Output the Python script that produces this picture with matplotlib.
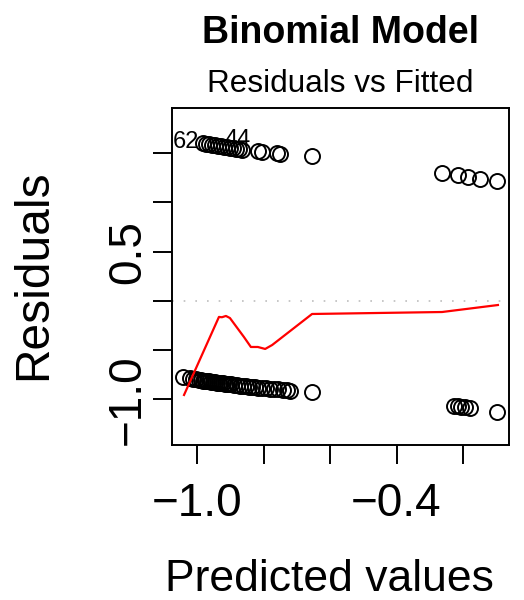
import matplotlib
matplotlib.use("Agg")
import matplotlib.pyplot as plt

plt.rcParams['font.family'] = ['Liberation Sans', 'DejaVu Sans']

# ---- data ----
fitted_low = [-1.042, -1.021, -1.012, -1.003, -0.994, -0.988, -0.982, -0.976, -0.970,
              -0.964, -0.958, -0.952, -0.946, -0.940, -0.934, -0.928, -0.922, -0.916,
              -0.910, -0.904, -0.898, -0.889, -0.880, -0.871, -0.862, -0.853, -0.844,
              -0.835, -0.826, -0.817, -0.805, -0.793, -0.781, -0.769, -0.757, -0.742,
              -0.730, -0.721, -0.654, -0.228, -0.215, -0.205, -0.195, -0.180, -0.098]
resid_low = [-0.77, -0.785, -0.79, -0.795, -0.80, -0.805, -0.81, -0.81, -0.815,
             -0.815, -0.82, -0.82, -0.825, -0.83, -0.83, -0.835, -0.835, -0.84,
             -0.84, -0.845, -0.845, -0.85, -0.855, -0.86, -0.86, -0.865, -0.87,
             -0.87, -0.875, -0.88, -0.88, -0.885, -0.89, -0.89, -0.895, -0.90,
             -0.905, -0.91, -0.92, -1.065, -1.07, -1.075, -1.08, -1.085, -1.13]
fitted_high = [-0.982, -0.973, -0.964, -0.955, -0.946, -0.937, -0.928, -0.919,
               -0.910, -0.901, -0.892, -0.883, -0.874, -0.865, -0.817, -0.805,
               -0.760, -0.751, -0.654, -0.263, -0.215, -0.185, -0.149, -0.098]
resid_high = [1.60, 1.595, 1.59, 1.585, 1.58, 1.575, 1.57, 1.565,
              1.56, 1.555, 1.55, 1.545, 1.54, 1.535, 1.52, 1.515,
              1.50, 1.495, 1.47, 1.30, 1.28, 1.26, 1.24, 1.22]
smooth_x = [-1.039, -0.934, -0.925, -0.913, -0.901, -0.859, -0.838, -0.817,
            -0.795, -0.774, -0.654, -0.263, -0.095]
smooth_y = [-0.954, -0.162, -0.165, -0.152, -0.173, -0.365, -0.467, -0.467,
            -0.487, -0.447, -0.132, -0.112, -0.041]
id_labels = ["62", "44"]
id_x = [-1.074, -0.918]
id_y = [1.615, 1.63]

xticks = [-1.0, -0.8, -0.6, -0.4, -0.2]
xticklabels = ["\u22121.0", "", "", "\u22120.4", ""]
yticks = [-1.0, -0.5, 0.0, 0.5, 1.0, 1.5]
yticklabels = ["\u22121.0", "", "", "0.5", "", ""]

W, H = 524, 600
fig = plt.figure(figsize=(W / 100, H / 100), dpi=100)
L, R, T, B = 172, 509, 108, 445
ax = fig.add_axes([L / W, 1 - B / H, (R - L) / W, (B - T) / H])

ax.plot(fitted_low + fitted_high, resid_low + resid_high, 'o', ms=10.8,
        mfc='none', mec='black', mew=1.4, clip_on=False)
ax.axhline(0, color='#BEBEBE', lw=1.2, linestyle=(0, (1, 6)))
ax.plot(smooth_x, smooth_y, color='red', lw=1.6)
for t, x, y in zip(id_labels, id_x, id_y):
    ax.text(x, y, t, fontsize=17, ha='left', va='center')

ax.set_xlim(-1.0752, -0.0617)
ax.set_ylim(-1.462, 1.959)
ax.set_xticks(xticks)
ax.set_xticklabels(xticklabels)
ax.set_yticks(yticks)
ax.set_yticklabels(yticklabels, rotation=90, va='center')
ax.tick_params(axis='both', length=14, width=1.4, labelsize=33, direction='out')
ax.tick_params(axis='x', pad=13)
ax.tick_params(axis='y', pad=2)
for s in ax.spines.values():
    s.set_linewidth(1.4)

fig.text(340.5 / W, 1 - 43 / H, "Binomial Model", fontsize=27, fontweight='bold',
         ha='center', va='baseline')
fig.text(340.5 / W, 1 - 92 / H, "Residuals vs Fitted", fontsize=22.7,
         ha='center', va='baseline')
fig.text(329 / W, 1 - 591 / H, "Predicted values", fontsize=32,
         ha='center', va='baseline')
fig.text(56 / W, 1 - 275 / H, "Residuals", fontsize=34.5, rotation=90,
         ha='right', va='center')

fig.savefig("out.png", dpi=100)
